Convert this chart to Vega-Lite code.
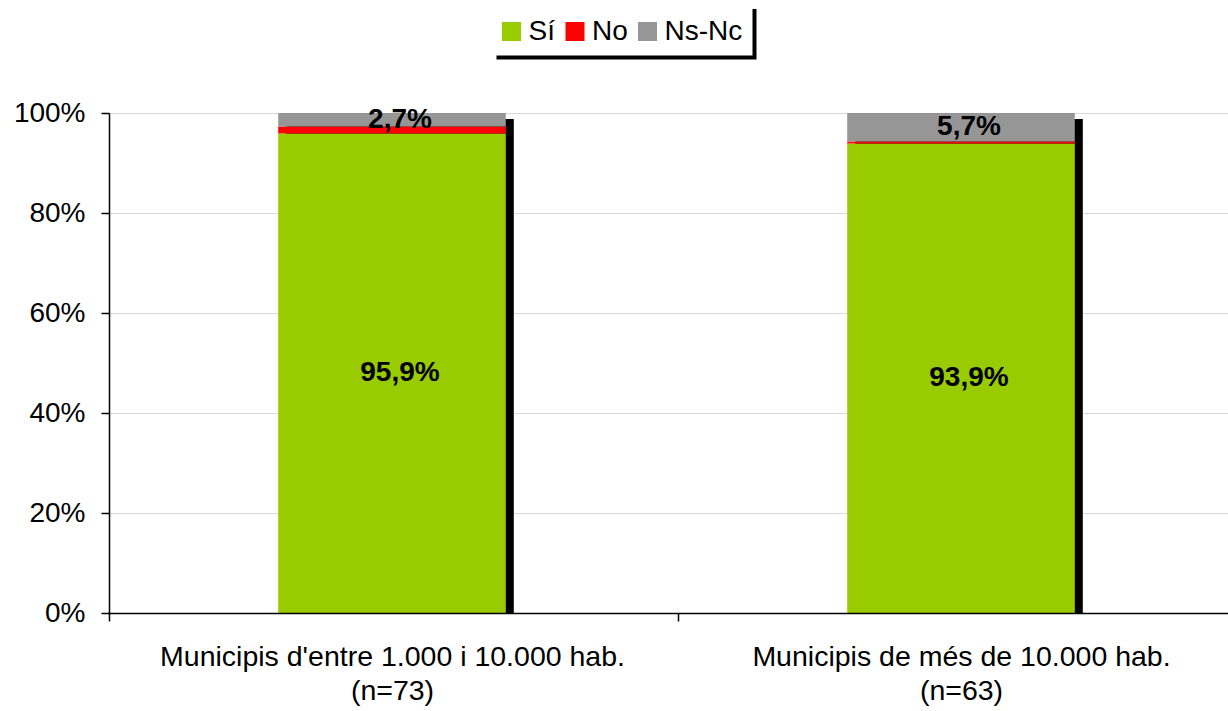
{
  "$schema": "https://vega.github.io/schema/vega-lite/v6.json",
  "width": 1119,
  "height": 500,
  "autosize": {"type": "none"},
  "padding": {"left": 109, "top": 113, "right": 0, "bottom": 98},
  "background": "white",
  "data": {
    "values": [
      {"grup": "Municipis d'entre 1.000 i 10.000 hab.\n(n=73)", "resposta": "Sí", "valor": 0.959},
      {"grup": "Municipis d'entre 1.000 i 10.000 hab.\n(n=73)", "resposta": "No", "valor": 0.014},
      {"grup": "Municipis d'entre 1.000 i 10.000 hab.\n(n=73)", "resposta": "Ns-Nc", "valor": 0.027},
      {"grup": "Municipis de més de 10.000 hab.\n(n=63)", "resposta": "Sí", "valor": 0.939},
      {"grup": "Municipis de més de 10.000 hab.\n(n=63)", "resposta": "No", "valor": 0.004},
      {"grup": "Municipis de més de 10.000 hab.\n(n=63)", "resposta": "Ns-Nc", "valor": 0.057}
    ]
  },
  "transform": [
    {"calculate": "indexof(['Sí', 'No', 'Ns-Nc'], datum.resposta)", "as": "ordre"},
    {"stack": "valor", "groupby": ["grup"], "sort": [{"field": "ordre", "order": "ascending"}], "as": ["v0", "v1"]},
    {"calculate": "(datum.v0 + datum.v1) / 2", "as": "mig"}
  ],
  "encoding": {
    "x": {
      "field": "grup",
      "type": "nominal",
      "sort": null,
      "scale": {"range": [-1.5, 1136.5], "paddingInner": 0.6, "paddingOuter": 0.3},
      "axis": {
        "title": null,
        "bandPosition": 0,
        "tickOffset": -169.2,
        "labelOffset": 169.2,
        "labelExpr": "split(datum.label, '\\n')",
        "labelAngle": 0,
        "labelLimit": 0,
        "labelOverlap": false,
        "labelFontSize": 28.5,
        "labelLineHeight": 33.5,
        "labelPadding": 21.5,
        "labelColor": "black",
        "labelFont": "Liberation Sans",
        "tickColor": "black",
        "tickSize": 8,
        "tickWidth": 1.5,
        "domainColor": "black",
        "domainWidth": 1.5,
        "grid": false,
        "zindex": 1
      }
    }
  },
  "layer": [
    {
      "mark": {"type": "bar", "color": "black", "xOffset": 8, "yOffset": 6, "clip": true},
      "encoding": {
        "y": {"aggregate": "max", "field": "v1", "type": "quantitative"}
      }
    },
    {
      "mark": {"type": "bar"},
      "encoding": {
        "y": {
          "field": "v1",
          "type": "quantitative",
          "scale": {"domain": [0, 1], "nice": false},
          "axis": {
            "title": null,
            "values": [0, 0.2, 0.4, 0.6, 0.8, 1],
            "format": ".0%",
            "labelFontSize": 28,
            "labelFont": "Liberation Sans",
            "labelColor": "black",
            "labelPadding": 16,
            "tickColor": "black",
            "tickSize": 8,
            "tickWidth": 1.5,
            "domainColor": "black",
            "domainWidth": 1.5,
            "gridColor": "#d9d9d9",
            "gridWidth": 1
          }
        },
        "y2": {"field": "v0"},
        "color": {
          "field": "resposta",
          "type": "nominal",
          "sort": ["Sí", "No", "Ns-Nc"],
          "scale": {"domain": ["Sí", "No", "Ns-Nc"], "range": ["#99cc00", "#ff0000", "#969696"]},
          "legend": {
            "title": null,
            "orient": "none",
            "direction": "horizontal",
            "legendX": 376.5,
            "legendY": -107.5,
            "symbolType": "square",
            "symbolSize": 361,
            "symbolStrokeWidth": 0,
            "symbolOpacity": 1,
            "labelFontSize": 28,
            "labelFont": "Liberation Sans",
            "labelColor": "black",
            "labelOffset": 3,
            "columnPadding": 5.5,
            "padding": 12,
            "fillColor": "white",
            "strokeColor": "black",
            "encode": {
              "legend": {
                "update": {
                  "strokeWidth": {"value": 4},
                  "strokeDash": {"value": [0, 272.5, 306.5, 62]}
                }
              }
            }
          }
        }
      }
    },
    {
      "transform": [{"filter": "datum.resposta !== 'No'"}],
      "mark": {"type": "text", "fontSize": 28, "fontWeight": "bold", "font": "Liberation Sans", "color": "black", "align": "center", "baseline": "middle", "dx": 8},
      "encoding": {
        "y": {"field": "mig", "type": "quantitative"},
        "text": {"field": "valor", "type": "quantitative", "format": ".1%"}
      }
    }
  ],
  "config": {
    "view": {"stroke": null},
    "locale": {"number": {"decimal": ",", "thousands": ".", "grouping": [3], "currency": ["", " €"]}}
  }
}
